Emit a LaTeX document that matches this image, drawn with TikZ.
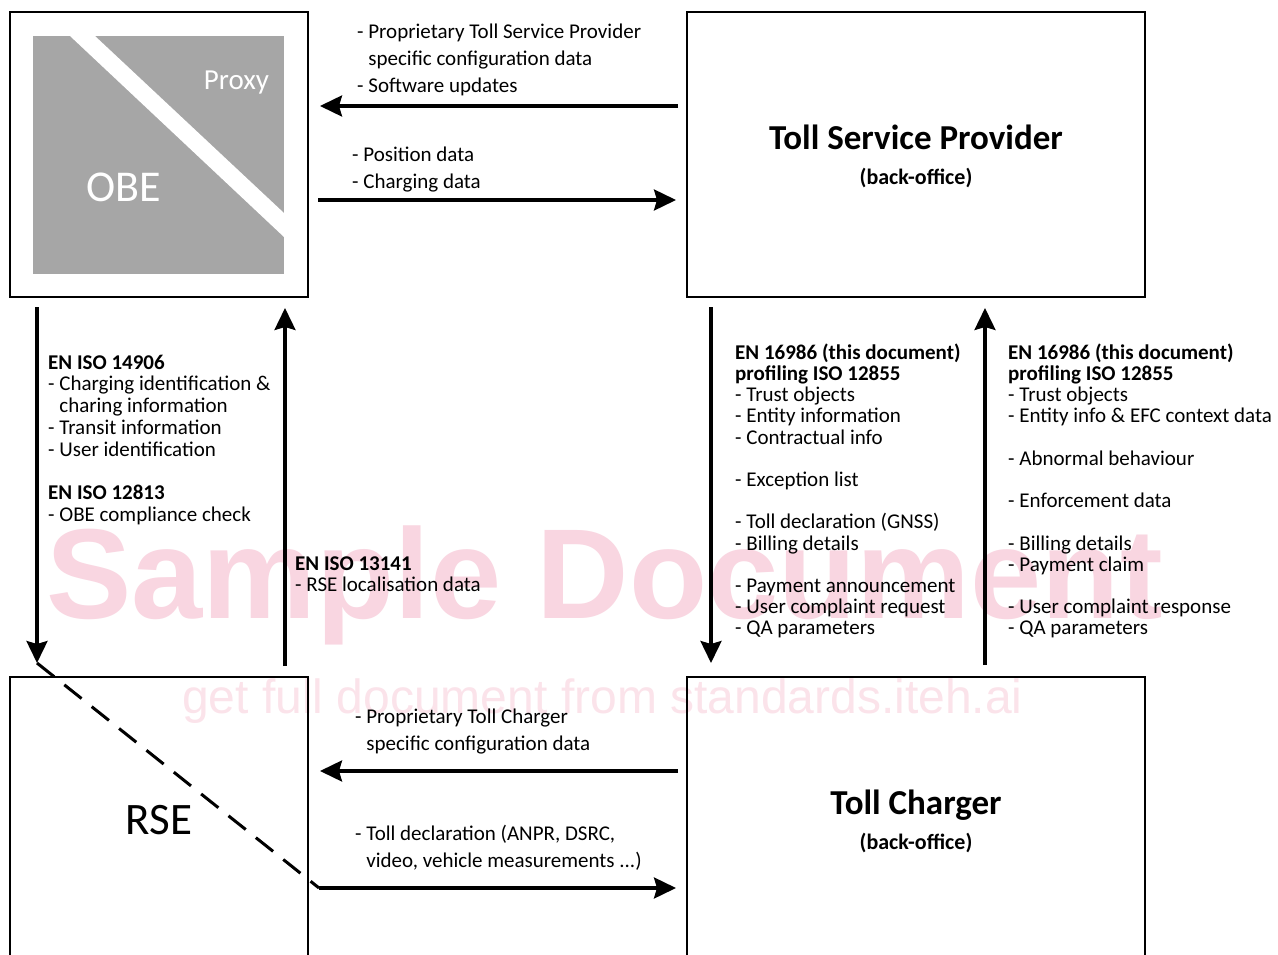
\documentclass[tikz,border=0pt]{standalone}
\usepackage{fontspec}
\setmainfont{Carlito}
\newfontfamily\wmfont{Liberation Sans}
\usetikzlibrary{arrows.meta}
\definecolor{obegray}{HTML}{A6A6A6}
\definecolor{wmpink}{HTML}{F9D6E1}
\definecolor{wmpinkl}{HTML}{FBE3EA}
\newcommand{\fl}{\rule{0pt}{17pt}}
\begin{document}
\begin{tikzpicture}[x=1pt,y=-1pt,
  box/.style={draw, line width=2.2pt, inner sep=0pt, outer sep=0pt},
  arr/.style={line width=3.2pt, -{Stealth[length=22pt,width=21pt,inset=3pt]}},
  dashline/.style={line width=3pt, dash pattern=on 22pt off 13pt},
  lst/.style={anchor=north west, inner sep=0pt, align=left, font=\fontsize{21}{21.2}\selectfont},
  lstl/.style={lst, font=\fontsize{21}{21.7}\selectfont},
  lstw/.style={lst, font=\fontsize{21}{27}\selectfont},
  title/.style={anchor=base, inner sep=0pt, font=\bfseries\fontsize{35}{40}\selectfont},
  subtitle/.style={anchor=base, inner sep=0pt, font=\bfseries\fontsize{22}{26}\selectfont},
  big/.style={anchor=base, inner sep=0pt, font=\fontsize{45}{50}\selectfont}
]
\useasboundingbox (0,0) rectangle (1278,955);
\clip (0,0) rectangle (1278,955);
\fill[white] (0,0) rectangle (1278,955);

% watermark
\node[anchor=base west, inner sep=0pt, text=wmpink, font=\wmfont\bfseries\fontsize{128}{130}\selectfont] (wm1) at (46,618) {Sample Document};
\node[anchor=base west, inner sep=0pt, text=wmpinkl, font=\wmfont\fontsize{48}{50}\selectfont] (wm2) at (182,713) {get full document from standards.iteh.ai};

% boxes
\node[box, minimum width=298pt, minimum height=285pt] (obe) at (159,154.5) {};
\node[box, minimum width=458pt, minimum height=285pt] (tsp) at (916,154.5) {};
\node[box, minimum width=298pt, minimum height=323pt] (rse) at (159,838.5) {};
\node[box, minimum width=458pt, minimum height=323pt] (tc) at (916,838.5) {};

% OBE content
\fill[obegray] (33,36) rectangle (284,274);
\fill[white] (70,36) -- (95,36) -- (284,213) -- (284,237) -- cycle;
\node[anchor=base, inner sep=0pt, text=white, font=\fontsize{29}{32}\selectfont] (proxy) at (236.5,90) {Proxy};
\node[big, text=white, font=\fontsize{44}{48}\selectfont] (obet) at (123.5,202) {OBE};

% titles
\node[title] (tspt) at (916,150) {Toll Service Provider};
\node[subtitle] (tsps) at (916,185) {(back-office)};
\node[title] (tct) at (916,814) {Toll Charger};
\node[subtitle] (tcs) at (916,849) {(back-office)};
\node[big] (rset) at (159,834) {RSE};

% horizontal arrows top
\draw[arr] ([xshift=-9pt]tsp.west |- 0,106) -- ([xshift=12pt]obe.east |- 0,106);
\draw[arr] ([xshift=10pt]obe.east |- 0,200) -- ([xshift=-11pt]tsp.west |- 0,200);

% vertical arrows left
\coordinate (d1) at ([yshift=14pt]rse.north -| 37,0);
\draw[arr] ([yshift=-10pt]obe.south -| 37,0) -- (d1);
\draw[arr] ([yshift=11pt]rse.north -| 285,0) -- ([yshift=-11pt]obe.south -| 285,0);

% vertical arrows right
\draw[arr] ([yshift=-10pt]tsp.south -| 711,0) -- ([yshift=14pt]tc.north -| 711,0);
\draw[arr] ([yshift=12pt]tc.north -| 985,0) -- ([yshift=-11pt]tsp.south -| 985,0);

% bottom arrows
\draw[arr] ([xshift=-9pt]tc.west |- 0,771) -- ([xshift=12pt]rse.east |- 0,771);
\coordinate (d2) at ([xshift=11pt]rse.east |- 0,888);
\draw[dashline] (d1) -- (d2);
\draw[arr] (d2) -- ([xshift=-11pt]tc.west |- 0,888);

% labels
\node[lstw] (l1) at (357,21) {\fl- Proprietary Toll Service Provider\\\phantom{- }specific configuration data\\- Software updates};
\node[lstw] (l2) at (352,144) {\fl- Position data\\- Charging data};

\node[lstl] (l3) at (48,352) {\fl\textbf{EN ISO 14906}\\- Charging identification \&\\\phantom{- }charing information\\- Transit information\\- User identification\\[21.7pt]\textbf{EN ISO 12813}\\- OBE compliance check};

\node[lst] (l4) at (295,553) {\fl\textbf{EN ISO 13141}\\- RSE localisation data};

\node[lst] (l5) at (735,342) {\fl\textbf{EN 16986 (this document)}\\\textbf{profiling ISO 12855}\\- Trust objects\\- Entity information\\- Contractual info\\[21.2pt]- Exception list\\[21.2pt]- Toll declaration (GNSS)\\- Billing details\\[21.2pt]- Payment announcement\\- User complaint request\\- QA parameters};

\node[lst] (l6) at (1008,342) {\fl\textbf{EN 16986 (this document)}\\\textbf{profiling ISO 12855}\\- Trust objects\\- Entity info \& EFC context data\\[21.2pt]- Abnormal behaviour\\[21.2pt]- Enforcement data\\[21.2pt]- Billing details\\- Payment claim\\[21.2pt]- User complaint response\\- QA parameters};

\node[lstw] (l7) at (355,706) {\fl- Proprietary Toll Charger\\\phantom{- }specific configuration data};
\node[lstw] (l8) at (355,823) {\fl- Toll declaration (ANPR, DSRC,\\\phantom{- }video, vehicle measurements ...)};
\end{tikzpicture}
\end{document}
